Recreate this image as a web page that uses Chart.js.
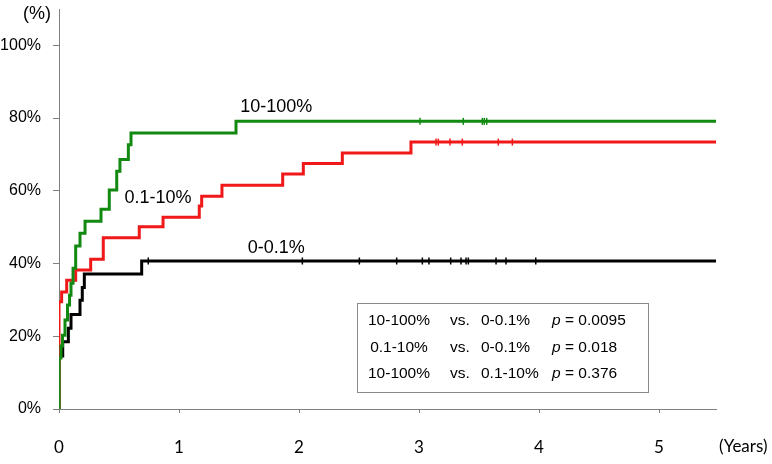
<!DOCTYPE html>
<html>
<head>
<meta charset="utf-8">
<script src="https://cdn.jsdelivr.net/npm/chart.js@4"></script>
<style>
    html, body { margin: 0; padding: 0; background: #fff; }
</style>
</head>
<body>
<canvas id="chart" width="772" height="464"></canvas>
<script>
// Axis ticks
const xTicks = [0, 1, 2, 3, 4, 5];
const yTicks = [0, 20, 40, 60, 80, 100];

// Group names
const groupNames = ['10-100%', '0.1-10%', '0-0.1%'];

// 10-100% (green) step curve: time in years, cumulative %
const highTimes = [0, 0, 0.017, 0.029, 0.05, 0.071, 0.088, 0.1, 0.117, 0.139, 0.175, 0.217, 0.35, 0.419, 0.481, 0.508, 0.578, 0.6, 1.475, 5.475];
const highValues = [0, 14.0, 17.3, 20.3, 24.5, 28.6, 31.3, 34.6, 38.7, 44.8, 48.3, 51.6, 54.9, 60.2, 65.4, 68.6, 72.7, 75.9, 79.1, 79.1];
const highCensored = [3.008, 3.369, 3.528, 3.544, 3.564];

// 0.1-10% (red)
const midTimes = [0, 0, 0.022, 0.064, 0.139, 0.264, 0.369, 0.669, 0.867, 1.169, 1.189, 1.358, 1.864, 2.036, 2.361, 2.933, 5.475];
const midValues = [0, 29.5, 32.2, 35.4, 38.2, 41.2, 47.1, 50.1, 52.7, 55.8, 58.5, 61.5, 64.6, 67.5, 70.4, 73.4, 73.4];
const midCensored = [3.142, 3.161, 3.258, 3.361, 3.661, 3.778];

// 0-0.1% (black)
const lowTimes = [0, 0, 0.031, 0.078, 0.1, 0.175, 0.194, 0.211, 0.689, 5.475];
const lowValues = [0, 14.6, 18.5, 22.2, 26.0, 29.9, 33.4, 37.1, 40.7, 40.7];
const lowCensored = [0.744, 2.028, 2.503, 2.814, 3.028, 3.083, 3.264, 3.35, 3.392, 3.411, 3.642, 3.725, 3.973];

// Curve label anchors (years, %)
const labelX = [1.81, 0.825, 1.81];
const labelY = [83.0, 58.0, 44.2];

// Comparison table
const compA = ['10-100%', '0.1-10%', '10-100%'];
const compB = ['0-0.1%', '0-0.1%', '0.1-10%'];
const pValues = ['0.0095', '0.018', '0.376'];

const colors = ['#128a12', '#f01818', '#000000'];

function toPoints(times, values) {
    return times.map((t, i) => ({ x: t, y: values[i] }));
}

function levelAt(times, values, t) {
    let v = values[0];
    times.forEach((tt, i) => { if (tt <= t) v = values[i]; });
    return v;
}

function censorPoints(times, values, cens) {
    return cens.map(t => ({ x: t, y: levelAt(times, values, t) }));
}

function stepDataset(data, color, order) {
    return {
        data: data,
        borderColor: color,
        borderWidth: 3,
        pointRadius: 0,
        stepped: true,
        fill: false,
        order: order
    };
}

function censorDataset(data, color, order) {
    return {
        data: data,
        showLine: false,
        borderColor: color,
        backgroundColor: color,
        borderWidth: 1.5,
        pointStyle: 'line',
        rotation: 90,
        pointRadius: 3.5,
        order: order
    };
}

const textPlugin = {
    id: 'texts',
    afterDraw(chart) {
        const ctx = chart.ctx;
        const xs = chart.scales.x;
        const ys = chart.scales.y;
        ctx.save();
        ctx.fillStyle = '#000';
        ctx.textBaseline = 'middle';

        // axis captions
        ctx.font = '18px "Liberation Sans", Arial, sans-serif';
        ctx.textAlign = 'center';
        ctx.fillText('(%)', 37, 14);
        ctx.font = '17px Lato, sans-serif';
        ctx.textAlign = 'left';
        ctx.fillText('(Years)', 719, 447);

        // curve labels
        ctx.font = '18px "Liberation Sans", Arial, sans-serif';
        ctx.textAlign = 'center';
        groupNames.forEach((name, i) => {
            ctx.fillText(name, xs.getPixelForValue(labelX[i]), ys.getPixelForValue(labelY[i]));
        });

        // comparison box
        ctx.strokeStyle = '#8a8a8a';
        ctx.lineWidth = 1;
        ctx.strokeRect(357.5, 303.5, 291, 89);
        ctx.font = '15.5px "Liberation Sans", Arial, sans-serif';
        const rowY = [321, 348, 374];
        compA.forEach((a, i) => {
            ctx.textAlign = 'center';
            ctx.fillText(a, 399, rowY[i]);
            ctx.textAlign = 'left';
            ctx.fillText('vs.', 450, rowY[i]);
            ctx.fillText(compB[i], 481, rowY[i]);
            ctx.font = 'italic 15.5px "Liberation Sans", Arial, sans-serif';
            ctx.fillText('p', 552, rowY[i]);
            ctx.font = '15.5px "Liberation Sans", Arial, sans-serif';
            ctx.fillText('= ' + pValues[i], 565, rowY[i]);
        });
        ctx.restore();
    }
};

new Chart(document.getElementById('chart'), {
    type: 'line',
    data: {
        datasets: [
            stepDataset(toPoints(highTimes, highValues), colors[0], 1),
            stepDataset(toPoints(midTimes, midValues), colors[1], 2),
            stepDataset(toPoints(lowTimes, lowValues), colors[2], 3),
            censorDataset(censorPoints(highTimes, highValues, highCensored), colors[0], 0),
            censorDataset(censorPoints(midTimes, midValues, midCensored), colors[1], 0),
            censorDataset(censorPoints(lowTimes, lowValues, lowCensored), colors[2], 0)
        ]
    },
    options: {
        responsive: false,
        devicePixelRatio: 1,
        animation: false,
        layout: { padding: { top: 9, right: 56, left: 0, bottom: 0 } },
        plugins: {
            legend: { display: false },
            tooltip: { enabled: false }
        },
        scales: {
            x: {
                type: 'linear',
                min: 0,
                max: 5.475,
                afterBuildTicks: s => { s.ticks = xTicks.map(v => ({ value: v })); },
                afterFit: s => { s.height = 55; s.paddingLeft = 0; s.paddingRight = 0; },
                grid: { drawOnChartArea: false, tickLength: 4, color: '#7f7f7f' },
                border: { color: '#7f7f7f', width: 1 },
                ticks: {
                    padding: 24,
                    color: '#000',
                    maxRotation: 0,
                    font: { family: 'Lato', size: 17 },
                    callback: v => String(v)
                }
            },
            y: {
                min: 0,
                max: 110,
                afterBuildTicks: s => { s.ticks = yTicks.map(v => ({ value: v })); },
                afterFit: s => { s.width = 59; s.paddingTop = 0; s.paddingBottom = 0; },
                grid: { drawOnChartArea: false, tickLength: 6, color: '#7f7f7f' },
                border: { color: '#7f7f7f', width: 1 },
                ticks: {
                    padding: 12,
                    color: '#000',
                    font: { family: '"Liberation Sans", Arial', size: 16 },
                    callback: v => v + '%'
                }
            }
        }
    },
    plugins: [textPlugin]
});
</script>
</body>
</html>
